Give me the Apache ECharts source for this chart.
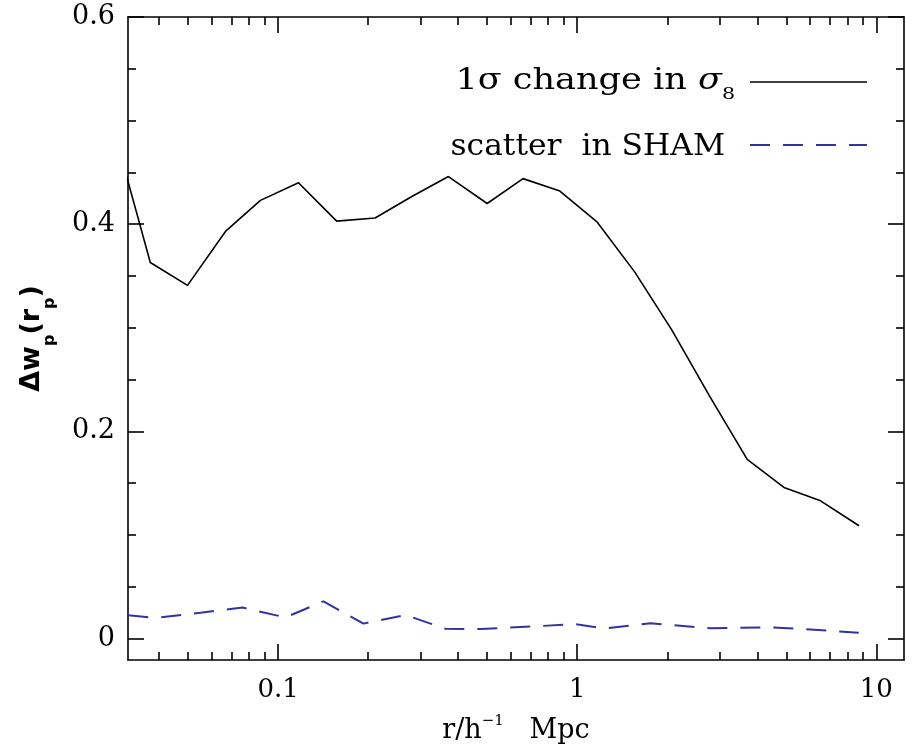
<!DOCTYPE html>
<html><head><meta charset="utf-8">
<script src="https://cdn.jsdelivr.net/npm/echarts@6/dist/echarts.min.js"></script>
<style>html,body{margin:0;padding:0;background:#fff}#c{width:912px;height:748px}</style>
</head><body><div id="c"></div>
<script>
// ---- data ----
const sigmaR  = [0.0280,0.0374,0.0498,0.0667,0.0873,0.117,0.157,0.211,0.281,0.371,0.500,0.659,0.875,1.167,1.556,2.07,2.77,3.70,4.91,6.51,8.75];
const sigmaDw = [0.495,0.363,0.341,0.393,0.423,0.440,0.403,0.406,0.427,0.446,0.420,0.444,0.432,0.402,0.354,0.298,0.234,0.173,0.146,0.133,0.109];
const shamR   = [0.0316,0.0389,0.0550,0.0760,0.1058,0.1417,0.1929,0.2666,0.3626,0.4750,0.987,1.243,1.759,2.792,4.43,5.58,8.73];
const shamDw  = [0.0225,0.0200,0.0250,0.0300,0.0205,0.0360,0.0145,0.0229,0.0095,0.0093,0.0139,0.0098,0.0149,0.0100,0.0110,0.0094,0.0058];
const seriesNames = ['1σ change in σ8', 'scatter  in SHAM'];
const xMajorTicks = [0.1, 1, 10];
const xTickLabels = ['0.1', '1', '10'];
const xMinorTicks = [0.04,0.05,0.06,0.07,0.08,0.09,0.2,0.3,0.4,0.5,0.6,0.7,0.8,0.9,2,3,4,5,6,7,8,9];
const yMajorTicks = [0, 0.2, 0.4, 0.6];
const yTickLabels = ['0', '0.2', '0.4', '0.6'];
const yMinorTicks = [0.05,0.1,0.15,0.25,0.3,0.35,0.45,0.5,0.55];
const xRange = [0.0315, 12.37];
const yRange = [-0.0206, 0.6];

// ---- chart ----
const lg = Math.log10;
const SERIF = "'DejaVu Serif', serif";
const SANS = "'DejaVu Sans', sans-serif";
const BLUE = '#3232a0';
const axisLineStyle = {color: '#000', width: 1.6};
const tickStyle = {color: '#000', width: 1.6};

function nearest(arr, v, f) {
  let best = 0;
  arr.forEach((t, i) => { if (Math.abs(f(t) - v) < Math.abs(f(arr[best]) - v)) best = i; });
  return best;
}

function xAxisDef(pos, major) {
  const a = {
    type: 'value', position: pos, min: lg(xRange[0]), max: lg(xRange[1]),
    axisLine: {show: major, onZero: false, lineStyle: axisLineStyle},
    splitLine: {show: false},
    axisTick: {show: true, inside: true, length: major ? 16 : 8,
      customValues: (major ? xMajorTicks : xMinorTicks).map(lg), lineStyle: tickStyle},
    axisLabel: {show: false}
  };
  if (major && pos === 'bottom') {
    a.axisLabel = {show: true, customValues: xMajorTicks.map(lg), margin: 17,
      fontFamily: SERIF, fontSize: 26, color: '#000',
      formatter: v => xTickLabels[nearest(xMajorTicks, v, lg)]};
    a.name = '{n|r/h}{sup|−1}{n|   Mpc}';
    a.nameLocation = 'middle';
    a.nameGap = 54;
    a.nameMoveOverlap = false;
    a.nameTextStyle = {verticalAlign: 'top', rich: {
      n: {fontFamily: SERIF, fontSize: 27, color: '#000', lineHeight: 30, verticalAlign: 'bottom'},
      sup: {fontFamily: SERIF, fontSize: 15, color: '#000', lineHeight: 30, verticalAlign: 'top'}
    }};
  }
  return a;
}
function yAxisDef(pos, major) {
  const a = {
    type: 'value', position: pos, min: yRange[0], max: yRange[1],
    axisLine: {show: major, onZero: false, lineStyle: axisLineStyle},
    splitLine: {show: false},
    axisTick: {show: true, inside: true, length: major ? 16 : 8,
      customValues: major ? yMajorTicks : yMinorTicks, lineStyle: tickStyle},
    axisLabel: {show: false}
  };
  if (major && pos === 'left') {
    a.axisLabel = {show: true, customValues: yMajorTicks, margin: 13,
      fontFamily: SERIF, fontSize: 27, color: '#000',
      formatter: v => yTickLabels[nearest(yMajorTicks, v, t => t)]};
    a.name = '{b|Δw}{s|p}{b|(r}{s|p}{b|)}';
    a.nameLocation = 'middle';
    a.nameRotate = 90;
    a.nameGap = 70;
    a.nameMoveOverlap = false;
    a.nameTextStyle = {rich: {
      b: {fontFamily: SANS, fontWeight: 'bold', fontSize: 27, color: '#000', lineHeight: 32, verticalAlign: 'top'},
      s: {fontFamily: SANS, fontWeight: 'bold', fontSize: 16, color: '#000', lineHeight: 40, verticalAlign: 'bottom'}
    }};
  }
  return a;
}

const chart = echarts.init(document.getElementById('c'), null, {renderer: 'canvas'});
const legendRich = {
  t: {fontFamily: SERIF, fontSize: 29, color: '#000', lineHeight: 36, verticalAlign: 'top'},
  it: {fontFamily: SERIF, fontSize: 29, fontStyle: 'italic', color: '#000', lineHeight: 36, verticalAlign: 'top'},
  sub: {fontFamily: SERIF, fontSize: 17, color: '#000', lineHeight: 36, verticalAlign: 'bottom'}
};
chart.setOption({
  animation: false,
  backgroundColor: '#fff',
  grid: {left: 128, top: 17, right: 8, bottom: 88, containLabel: false, outerBoundsMode: 'none'},
  xAxis: [xAxisDef('bottom', true), xAxisDef('bottom', false), xAxisDef('top', true), xAxisDef('top', false)],
  yAxis: [yAxisDef('left', true), yAxisDef('left', false), yAxisDef('right', true), yAxisDef('right', false)],
  graphic: [
    // legend: labels + line samples
    {type: 'text', x: 735, y: 85, scaleX: 1.21, originX: 0, originY: 0,
     style: {text: '{t|1σ change in }{it|σ}{sub|8}', rich: legendRich, align: 'right', verticalAlign: 'middle'}},
    {type: 'line', shape: {x1: 750, y1: 82, x2: 867, y2: 82}, style: {stroke: '#000', lineWidth: 1.6}},
    {type: 'text', x: 725, y: 151, scaleX: 1.08, originX: 0, originY: 0,
     style: {text: '{t|' + seriesNames[1] + '}', rich: legendRich, align: 'right', verticalAlign: 'middle'}},
    {type: 'line', shape: {x1: 750, y1: 145, x2: 867, y2: 145}, style: {stroke: BLUE, lineWidth: 2, lineDash: [20, 13]}}
  ],
  series: [
    {name: seriesNames[0], type: 'line', xAxisIndex: 0, yAxisIndex: 0, symbol: 'none', clip: true,
     lineStyle: {color: '#000', width: 1.6},
     data: sigmaR.map((r, i) => [lg(r), sigmaDw[i]])},
    {name: seriesNames[1], type: 'line', xAxisIndex: 0, yAxisIndex: 0, symbol: 'none', clip: true,
     lineStyle: {color: BLUE, width: 2, type: [20, 13]},
     data: shamR.map((r, i) => [lg(r), shamDw[i]])}
  ]
});
</script></body></html>
